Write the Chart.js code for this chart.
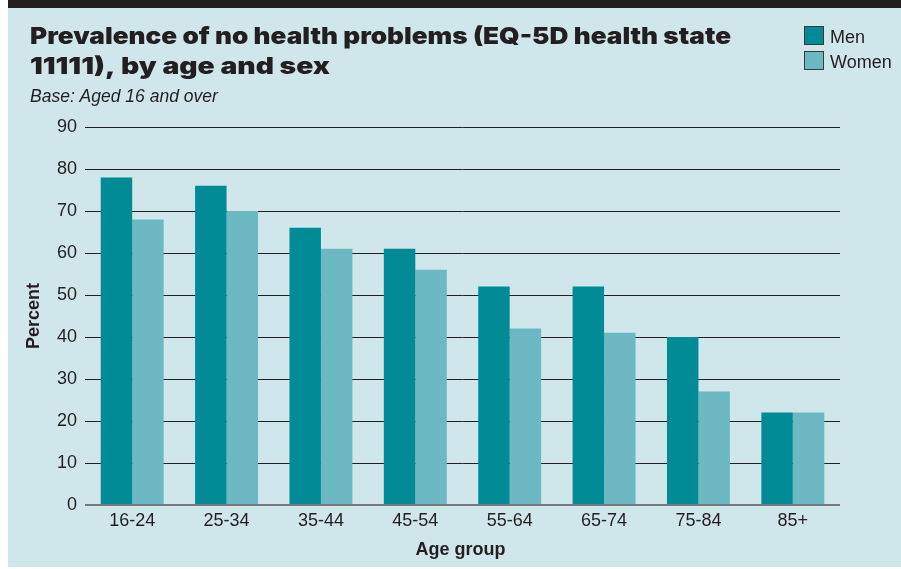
<!DOCTYPE html>
<html>
<head>
<meta charset="utf-8">
<title>Prevalence of no health problems by age and sex</title>
<script src="https://cdn.jsdelivr.net/npm/chart.js@4.4.1/dist/chart.umd.min.js"></script>
<style>
    html, body { margin: 0; padding: 0; background: #fff; }
    canvas { display: block; }
</style>
</head>
<body>
<canvas id="eqChart" width="901" height="569"></canvas>
<script>
// Data
const ageGroups = ['16-24', '25-34', '35-44', '45-54', '55-64', '65-74', '75-84', '85+'];
const menValues = [78, 76, 66, 61, 52, 52, 40, 22];
const womenValues = [68, 70, 61, 56, 42, 41, 27, 22];
const seriesNames = ['Men', 'Women'];
const yTicks = [0, 10, 20, 30, 40, 50, 60, 70, 80, 90];

const titleLines = ['Prevalence of no health problems (EQ-5D health state', '11111), by age and sex'];
const baseNote = 'Base: Aged 16 and over';
const xTitle = 'Age group';
const yTitle = 'Percent';

const COLORS = {
    panel: '#cfe6ea',
    band: '#231f20',
    ink: '#231f20',
    zero: '#77787b',
    men: '#008b96',
    women: '#6cb8c3'
};
const FONT = '"Liberation Sans", Arial, Helvetica, sans-serif';
const HEAVY_FONT = 'Inter, "Liberation Sans", Arial, sans-serif';

// Background panel, heading, legend and axis titles
const panelPlugin = {
    id: 'panel',
    beforeDraw(chart) {
        const { ctx, width, height } = chart;
        ctx.save();
        ctx.fillStyle = '#ffffff';
        ctx.fillRect(0, 0, width, height);
        ctx.fillStyle = COLORS.band;
        ctx.fillRect(8, 0, width - 8, 8);
        ctx.fillStyle = COLORS.panel;
        ctx.fillRect(8, 8, width - 8, height - 10);
        ctx.restore();
    },
    afterDraw(chart) {
        const { ctx, chartArea } = chart;
        ctx.save();
        ctx.fillStyle = COLORS.ink;
        ctx.textBaseline = 'alphabetic';

        // heavy two-line title, each line fitted to its set width
        ctx.font = `900 23px ${HEAVY_FONT}`;
        const titleRows = [{ y: 44, w: 701 }, { y: 73.5, w: 300 }];
        titleRows.forEach((row, i) => {
            const sx = row.w / ctx.measureText(titleLines[i]).width;
            ctx.save();
            ctx.translate(30, row.y);
            ctx.scale(sx, 1);
            ctx.fillText(titleLines[i], 0, 0);
            ctx.restore();
        });

        ctx.font = `italic 17.5px ${FONT}`;
        ctx.fillText(baseNote, 30, 102);

        // legend
        const legendColors = [COLORS.men, COLORS.women];
        ctx.font = `18px ${FONT}`;
        seriesNames.forEach((name, i) => {
            const top = 26 + i * 25;
            ctx.fillStyle = legendColors[i];
            ctx.fillRect(804, top, 20, 19);
            ctx.strokeStyle = '#3a3a3a';
            ctx.lineWidth = 1;
            ctx.strokeRect(804.5, top + 0.5, 19, 18);
            ctx.fillStyle = COLORS.ink;
            ctx.fillText(name, 830, top + 17);
        });

        // axis titles
        ctx.font = `bold 18px ${FONT}`;
        ctx.textAlign = 'center';
        ctx.fillText(xTitle, (chartArea.left + chartArea.right) / 2 - 2, 555);
        ctx.translate(39, (chartArea.top + chartArea.bottom) / 2);
        ctx.rotate(-Math.PI / 2);
        ctx.fillText(yTitle, 0, 0);
        ctx.restore();
    }
};

const chart = new Chart(document.getElementById('eqChart'), {
    type: 'bar',
    data: {
        labels: ageGroups,
        datasets: [
            { label: seriesNames[0], data: menValues, backgroundColor: COLORS.men },
            { label: seriesNames[1], data: womenValues, backgroundColor: COLORS.women }
        ]
    },
    options: {
        responsive: false,
        animation: false,
        events: [],
        categoryPercentage: 0.667,
        barPercentage: 1.0,
        layout: { padding: { top: 127, right: 61, bottom: 0, left: 0 } },
        plugins: {
            legend: { display: false },
            title: { display: false },
            tooltip: { enabled: false }
        },
        scales: {
            x: {
                grid: { display: false, drawTicks: false },
                border: { display: false },
                ticks: { color: COLORS.ink, font: { family: FONT, size: 18 }, padding: 5 },
                afterFit: scale => { scale.height = 64; }
            },
            y: {
                min: 0,
                max: 90,
                afterBuildTicks: scale => { scale.ticks = yTicks.map(v => ({ value: v })); },
                grid: {
                    drawTicks: false,
                    color: c => c.tick.value === 0 ? COLORS.zero : COLORS.ink,
                    lineWidth: c => c.tick.value === 0 ? 2 : 1
                },
                border: { display: false },
                ticks: { color: COLORS.ink, font: { family: FONT, size: 18 }, padding: 8 },
                afterFit: scale => { scale.width = 85; }
            }
        }
    },
    plugins: [panelPlugin]
});
</script>
</body>
</html>
